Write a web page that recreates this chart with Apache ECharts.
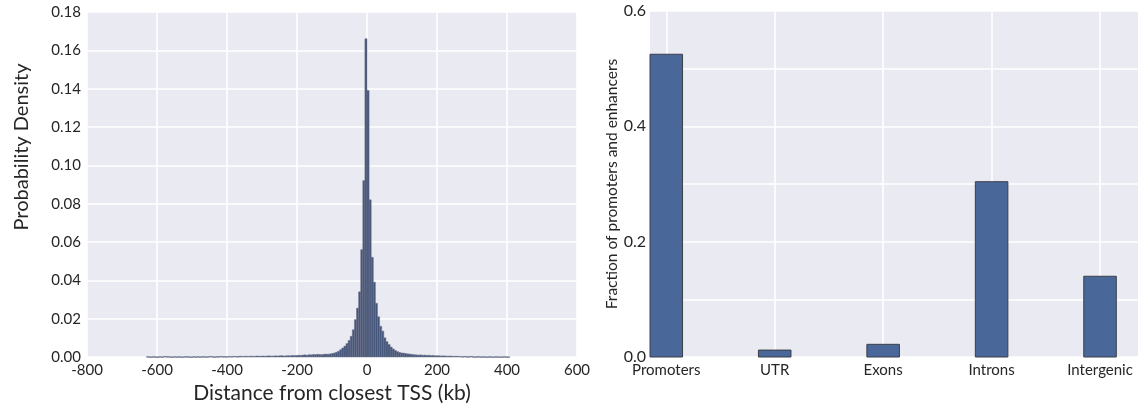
<!DOCTYPE html>
<html>
<head>
<meta charset="utf-8">
<script src="https://cdn.jsdelivr.net/npm/echarts@6/dist/echarts.min.js"></script>
<style>html,body{margin:0;padding:0;background:#fff;}#c{width:1140px;height:412px;}</style>
</head>
<body>
<div id="c"></div>
<script>
// ---- Left panel: histogram of distance from closest TSS (kb) ----
const binWidth = 6;            // kb
const coreStart = -108;        // kb, left edge of first core bin
const tailLeft = [0.0002,0.0001,0.0001,0.0002,0.0001,0.0001,0.0002,0.0001,0.0003,0.0002,0.0002,0.0001,0.0001,0.0002,0.0001,0.0002,0.0001,0.0001,0.0002,0.0002,0.0001,0.0001,0.0002,0.0001,0.0002,0.0001,0.0002,0.0002,0.0001,0.0002,0.0003,0.0002,0.0001,0.0002,0.0002,0.0003,0.0002,0.0002,
  0.0002,0.0003,0.0002,0.0003,0.0003,0.0002,0.0004,0.0003,0.0003,0.0004,0.0003,0.0004,0.0004,0.0003,0.0005,0.0004,0.0004,0.0005,0.0004,0.0005,0.0006,0.0004,0.0005,0.0006,0.0005,0.0006,0.0007,0.0005,0.0006,0.0007,0.0006,0.0008,0.0007,0.0008,
  0.0009,0.0008,0.0010,0.0011,0.0009,0.0012,0.0011,0.0013,0.0012,0.0014,0.0013,0.0012,0.0014,0.0015,0.0014];
const core = [0.0016,0.0018,0.0021,0.0025,0.0030,0.0038,0.0047,0.0057,0.0070,0.0086,0.0108,0.0142,0.0195,0.0255,0.0340,0.0560,0.0920,0.1660,
  0.1390,0.0820,0.0520,0.0390,0.0280,0.0210,0.0160,0.0135,0.0100,0.0080,0.0065,0.0052,0.0042,0.0034,0.0028,0.0024,0.0021,0.0020,0.0018,0.0016,0.0015,0.0013,0.0012];
const tailRight = [0.0011,0.0010,0.0011,0.0009,0.0010,0.0008,0.0009,0.0007,0.0008,0.0006,0.0007,0.0006,0.0005,0.0006,0.0005,0.0004,0.0005,0.0004,0.0003,0.0004,0.0003,0.0003,0.0002,0.0003,0.0002,0.0002,0.0003,0.0002,0.0001,0.0002,0.0002,0.0001,0.0002,0.0001,0.0001,0.0002,0.0001,0.0001,0.0002,0.0001,0.0001,0.0001,0.0002,0.0001,0.0001];
const xTicksLeft = [-800,-600,-400,-200,0,200,400,600];

// ---- Right panel: genomic annotation fractions ----
const categories = ['Promoters','UTR','Exons','Introns','Intergenic'];
const fractions = [0.525,0.012,0.022,0.304,0.140];

// build histogram bins [x0, x1, density]
const allDensity = tailLeft.concat(core, tailRight);
const histStart = coreStart - tailLeft.length * binWidth;
const histData = allDensity.map((d, i) => [histStart + i * binWidth, histStart + (i + 1) * binWidth, d]);
const barData = fractions.map((v, i) => [i, v]);

const FONT = 'Lato';
const TXT = '#262626';
const BG = '#EAEAF2';

const chart = echarts.init(document.getElementById('c'), null, {renderer: 'canvas'});
chart.setOption({
  backgroundColor: '#ffffff',
  textStyle: {fontFamily: FONT},
  animation: false,
  grid: [
    {left: 87, width: 490, top: 12, bottom: 55, show: true, backgroundColor: BG, borderWidth: 0},
    {left: 650, right: 2, top: 11, bottom: 55, show: true, backgroundColor: BG, borderWidth: 0}
  ],
  xAxis: [
    {
      gridIndex: 0, type: 'value', min: -800, max: 600, interval: 200,
      axisLine: {show: false}, axisTick: {show: false},
      splitLine: {show: true, lineStyle: {color: '#ffffff', width: 1.6}},
      axisLabel: {color: TXT, fontSize: 15, fontFamily: FONT, margin: 6,
        formatter: v => xTicksLeft.indexOf(v) >= 0 ? String(v) : ''},
      name: 'Distance from closest TSS (kb)', nameLocation: 'middle', nameGap: 24,
      nameTextStyle: {color: TXT, fontSize: 21, fontFamily: FONT}
    },
    {
      gridIndex: 1, type: 'value', min: -0.15, max: 4.35,
      axisLine: {show: false},
      axisTick: {show: false, customValues: [0,1,2,3,4]},
      splitLine: {show: true, lineStyle: {color: '#ffffff', width: 1.6}},
      axisLabel: {color: TXT, fontSize: 15, fontFamily: FONT, margin: 6,
        customValues: [0,1,2,3,4],
        formatter: v => (Math.abs(v - Math.round(v)) < 1e-6 && categories[Math.round(v)]) ? categories[Math.round(v)] : ''}
    }
  ],
  yAxis: [
    {
      gridIndex: 0, type: 'value', min: 0, max: 0.18, interval: 0.02,
      axisLine: {show: false}, axisTick: {show: false},
      splitLine: {show: true, lineStyle: {color: '#ffffff', width: 1.6}},
      axisLabel: {color: TXT, fontSize: 15, fontFamily: FONT, margin: 6, formatter: v => v.toFixed(2)}
    },
    {
      gridIndex: 1, type: 'value', min: 0, max: 0.6, interval: 0.1,
      axisLine: {show: false}, axisTick: {show: false},
      splitLine: {show: true, lineStyle: {color: '#ffffff', width: 1.6}},
      axisLabel: {color: TXT, fontSize: 16, fontFamily: FONT, margin: 4,
        formatter: v => (Math.round(v * 10) % 2 === 0) ? v.toFixed(1) : ''},
      name: 'Fraction of promoters and enhancers', nameLocation: 'middle', nameGap: 30,
      nameTextStyle: {color: TXT, fontSize: 15.5, fontFamily: FONT}
    }
  ],
  graphic: [{
    type: 'text', x: 22, y: 147, rotation: Math.PI / 2,
    style: {text: 'Probability Density', fill: TXT, fontSize: 20, fontFamily: FONT,
      align: 'center', verticalAlign: 'middle'}
  }],
  series: [
    {
      type: 'custom', xAxisIndex: 0, yAxisIndex: 0,
      data: histData,
      encode: {x: [0, 1], y: 2},
      renderItem: function (params, api) {
        const p0 = api.coord([api.value(0), api.value(2)]);
        const p1 = api.coord([api.value(1), 0]);
        return {
          type: 'rect',
          shape: {x: p0[0], y: p0[1], width: p1[0] - p0[0], height: Math.max(p1[1] - p0[1], 0.6)},
          style: {fill: '#45567c', stroke: '#6b7186', lineWidth: 0.5}
        };
      }
    },
    {
      type: 'custom', xAxisIndex: 1, yAxisIndex: 1,
      data: barData,
      encode: {x: 0, y: 1},
      renderItem: function (params, api) {
        const half = 0.15;
        const p0 = api.coord([api.value(0) - half, api.value(1)]);
        const p1 = api.coord([api.value(0) + half, 0]);
        return {
          type: 'rect',
          shape: {x: p0[0], y: p0[1], width: p1[0] - p0[0], height: p1[1] - p0[1]},
          style: {fill: '#4a6799', stroke: '#3b3f48', lineWidth: 1}
        };
      }
    }
  ]
});
</script>
</body>
</html>
